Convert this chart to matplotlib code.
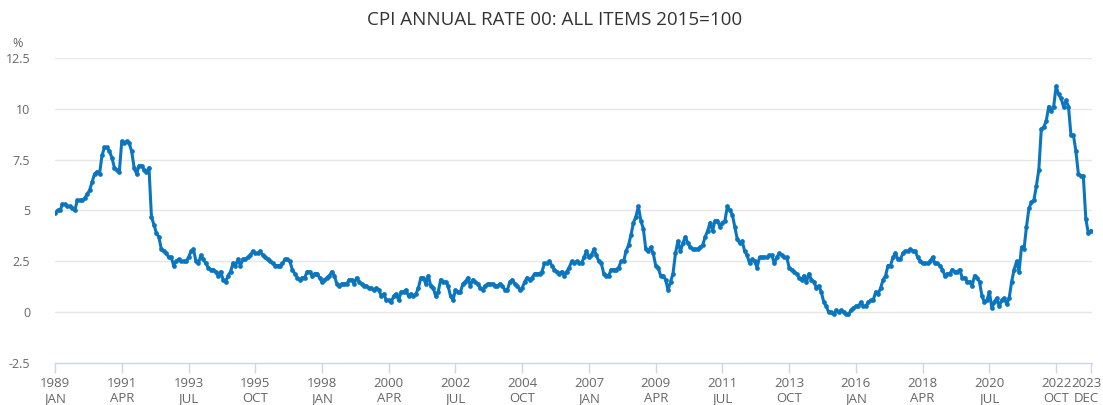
import matplotlib.pyplot as plt
import matplotlib.transforms as mtransforms
import numpy as np

plt.rcParams['font.family'] = ['Open Sans', 'DejaVu Sans']

# monthly CPI annual rate (%), Jan 1989 .. Dec 2023
cpi_1989_1992 = [4.9, 5.0, 5.0, 5.3, 5.3, 5.2, 5.2, 5.1, 5.0, 5.5, 5.5, 5.5,
                 5.6, 5.8, 6.0, 6.4, 6.8, 6.9, 6.8, 7.7, 8.1, 8.1, 7.9, 7.6,
                 7.1, 7.0, 6.9, 8.4, 8.3, 8.4, 8.3, 7.9, 7.1, 6.8, 7.2, 7.2,
                 7.0, 6.9, 7.1, 4.7, 4.3, 3.9, 3.7, 3.1, 3.0, 2.9, 2.7, 2.7]
cpi_1993_1996 = [2.3, 2.5, 2.6, 2.5, 2.5, 2.5, 2.7, 3.0, 3.1, 2.5, 2.4, 2.8,
                 2.6, 2.4, 2.2, 2.1, 2.1, 2.0, 1.8, 2.0, 1.6, 1.5, 1.8, 2.0,
                 2.4, 2.3, 2.6, 2.3, 2.6, 2.6, 2.7, 2.8, 3.0, 2.9, 2.9, 3.0,
                 2.8, 2.7, 2.6, 2.5, 2.4, 2.3, 2.3, 2.3, 2.4, 2.6, 2.6, 2.5]
cpi_1997_2000 = [2.1, 1.9, 1.7, 1.6, 1.7, 1.7, 2.0, 2.0, 1.8, 1.9, 1.9, 1.7,
                 1.5, 1.6, 1.7, 1.8, 2.0, 1.8, 1.4, 1.3, 1.4, 1.4, 1.4, 1.6,
                 1.6, 1.4, 1.7, 1.5, 1.4, 1.3, 1.3, 1.2, 1.2, 1.1, 1.2, 1.1,
                 0.8, 0.9, 0.6, 0.6, 0.5, 0.8, 0.9, 0.6, 1.0, 1.0, 1.1, 0.8]
cpi_2001_2004 = [0.9, 0.8, 0.9, 1.2, 1.7, 1.7, 1.4, 1.8, 1.3, 1.2, 0.8, 1.0,
                 1.6, 1.5, 1.5, 1.3, 0.8, 0.6, 1.1, 1.0, 1.0, 1.4, 1.5, 1.7,
                 1.3, 1.6, 1.5, 1.4, 1.2, 1.1, 1.3, 1.4, 1.4, 1.4, 1.3, 1.3,
                 1.4, 1.3, 1.1, 1.1, 1.5, 1.6, 1.4, 1.3, 1.1, 1.2, 1.5, 1.7]
cpi_2005_2008 = [1.6, 1.7, 1.9, 1.9, 1.9, 2.0, 2.4, 2.4, 2.5, 2.3, 2.1, 2.0,
                 1.9, 2.0, 1.8, 2.0, 2.2, 2.5, 2.4, 2.5, 2.4, 2.4, 2.7, 3.0,
                 2.7, 2.8, 3.1, 2.8, 2.5, 2.4, 1.9, 1.8, 1.8, 2.1, 2.1, 2.1,
                 2.2, 2.5, 2.5, 3.0, 3.3, 3.8, 4.4, 4.7, 5.2, 4.5, 4.1, 3.1]
cpi_2009_2012 = [3.0, 3.2, 2.9, 2.3, 2.2, 1.8, 1.8, 1.6, 1.1, 1.5, 1.9, 2.9,
                 3.5, 3.0, 3.4, 3.7, 3.4, 3.2, 3.1, 3.1, 3.1, 3.2, 3.3, 3.7,
                 4.0, 4.4, 4.0, 4.5, 4.5, 4.2, 4.4, 4.5, 5.2, 5.0, 4.8, 4.2,
                 3.6, 3.4, 3.5, 3.0, 2.8, 2.4, 2.6, 2.5, 2.2, 2.7, 2.7, 2.7]
cpi_2013_2016 = [2.7, 2.8, 2.8, 2.4, 2.7, 2.9, 2.8, 2.7, 2.7, 2.2, 2.1, 2.0,
                 1.9, 1.7, 1.6, 1.8, 1.5, 1.9, 1.6, 1.5, 1.2, 1.3, 1.0, 0.5,
                 0.3, 0.0, 0.0, -0.1, 0.1, 0.0, 0.1, 0.0, -0.1, -0.1, 0.1, 0.2,
                 0.3, 0.3, 0.5, 0.3, 0.3, 0.5, 0.6, 0.6, 1.0, 0.9, 1.2, 1.6]
cpi_2017_2020 = [1.8, 2.3, 2.3, 2.7, 2.9, 2.6, 2.6, 2.9, 3.0, 3.0, 3.1, 3.0,
                 3.0, 2.7, 2.5, 2.4, 2.4, 2.4, 2.5, 2.7, 2.4, 2.4, 2.3, 2.1,
                 1.8, 1.9, 1.9, 2.1, 2.0, 2.0, 2.1, 1.7, 1.7, 1.5, 1.5, 1.3,
                 1.8, 1.7, 1.5, 0.8, 0.5, 0.6, 1.0, 0.2, 0.5, 0.7, 0.3, 0.6]
cpi_2021_2023 = [0.7, 0.4, 0.7, 1.5, 2.1, 2.5, 2.0, 3.2, 3.1, 4.2, 5.1, 5.4,
                 5.5, 6.2, 7.0, 9.0, 9.1, 9.4, 10.1, 9.9, 10.1, 11.1, 10.7, 10.5,
                 10.1, 10.4, 10.1, 8.7, 8.7, 7.9, 6.8, 6.7, 6.7, 4.6, 3.9, 4.0]

tick_months = [0, 27, 54, 81, 108, 135, 162, 189, 216, 243, 270, 297, 324,
               351, 378, 405, 419]
tick_labels = ['1989\nJAN', '1991\nAPR', '1993\nJUL', '1995\nOCT', '1998\nJAN',
               '2000\nAPR', '2002\nJUL', '2004\nOCT', '2007\nJAN', '2009\nAPR',
               '2011\nJUL', '2013\nOCT', '2016\nJAN', '2018\nAPR', '2020\nJUL',
               '2022\nOCT', '2023\nDEC']
y_ticks = [-2.5, 0, 2.5, 5, 7.5, 10, 12.5]
y_labels = ['-2.5', '0', '2.5', '5', '7.5', '10', '12.5']

cpi = np.array(cpi_1989_1992 + cpi_1993_1996 + cpi_1997_2000 + cpi_2001_2004 +
               cpi_2005_2008 + cpi_2009_2012 + cpi_2013_2016 + cpi_2017_2020 +
               cpi_2021_2023)
months = np.arange(len(cpi))

fig = plt.figure(figsize=(11.03, 4.05), dpi=100)
ax = fig.add_axes([0.0499, 0.103, 0.9401, 0.7545])

line_col = '#0a76c0'
ax.plot(months, cpi, color=line_col, lw=2.2, marker='o', ms=3.4,
        markeredgewidth=0, zorder=3)

ax.set_xlim(0, 419.5)
ax.set_ylim(-2.5, 12.5)
ax.set_yticks(y_ticks)
ax.set_yticklabels(y_labels)
ax.set_xticks(tick_months)
ax.set_xticklabels(tick_labels, linespacing=1.15)

for y in y_ticks[1:]:
    ax.axhline(y, color='#e6e6e6', lw=1.0, zorder=1)

for s in ['top', 'right', 'left']:
    ax.spines[s].set_visible(False)
ax.spines['bottom'].set_color('#ccd6eb')
ax.spines['bottom'].set_linewidth(1.0)

ax.tick_params(axis='y', length=0, pad=18, labelsize=9, labelcolor='#666666')
ax.tick_params(axis='x', length=7, width=1, color='#ccd6eb', pad=3,
               labelsize=9.5, labelcolor='#666666')

# the last label sits at the right edge; pull it in a few pixels
last = ax.get_xticklabels()[-1]
last.set_transform(last.get_transform() +
                   mtransforms.ScaledTranslation(-4 / 100, 0, fig.dpi_scale_trans))

fig.text(0.503, 0.95, 'CPI ANNUAL RATE 00: ALL ITEMS 2015=100',
         ha='center', va='center', fontsize=13.5, color='#333333')
fig.text(0.0115, 0.893, '%', ha='left', va='center', fontsize=9,
         color='#666666')

fig.savefig('out.png', dpi=100)
